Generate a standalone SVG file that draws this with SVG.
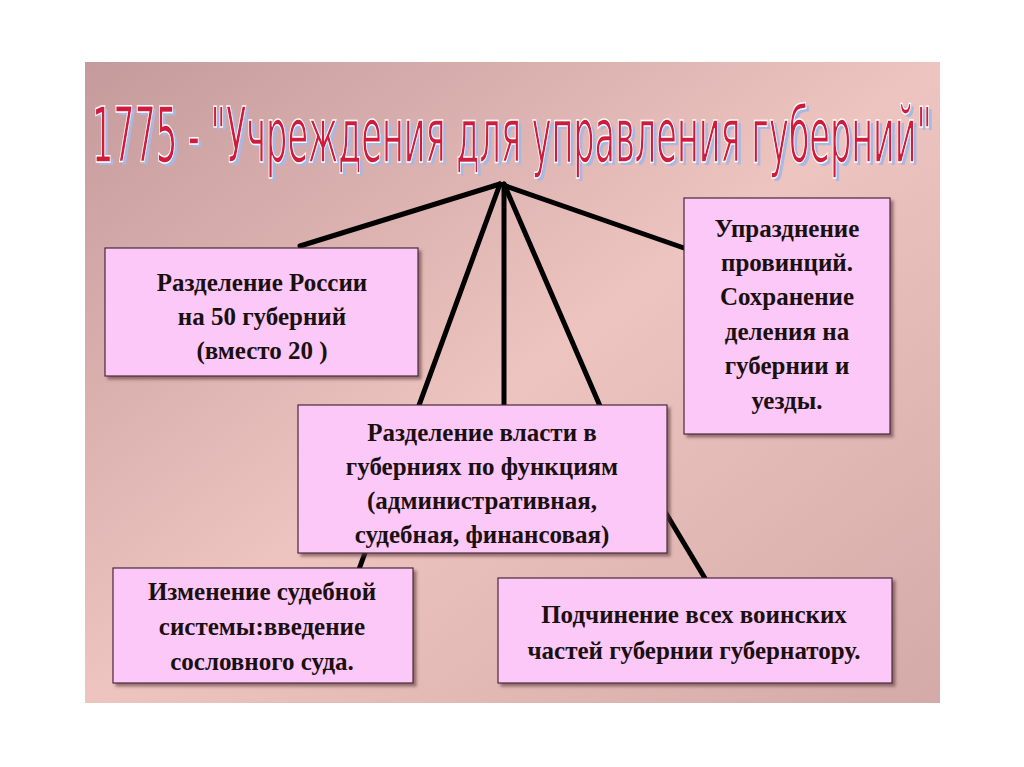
<svg xmlns="http://www.w3.org/2000/svg" width="1024" height="767" viewBox="0 0 1024 767">
<defs>
<linearGradient id="bg" x1="0" y1="0" x2="1" y2="1">
<stop offset="0" stop-color="#c49a9c"/>
<stop offset="0.5" stop-color="#eec4c0"/>
<stop offset="1" stop-color="#d4aaa8"/>
</linearGradient>
<filter id="sh" x="-5%" y="-5%" width="115%" height="115%"><feDropShadow dx="3" dy="3" stdDeviation="1.5" flood-color="#5a3a3a" flood-opacity="0.6"/></filter>
</defs>
<style>
.box{fill:#fcc8f8;stroke:#4a2a3a;stroke-width:1.2;filter:url(#sh)}
.t{font-family:"Liberation Serif",serif;font-weight:bold;font-size:25px;fill:#1a1010;text-anchor:middle}
.ln{stroke:#000;stroke-width:5;stroke-linecap:round;fill:none}
.ti{font-family:"DejaVu Sans Condensed","Liberation Sans",sans-serif;font-size:76px}
</style>
<rect width="1024" height="767" fill="#fff"/>
<rect x="85" y="62" width="855" height="641" fill="url(#bg)"/>
<g id="title">
<text class="ti" x="95" y="165" textLength="840" lengthAdjust="spacingAndGlyphs" fill="#a8b8e0">1775 - "Учреждения для управления губерний"</text>
<text class="ti" x="92" y="162" textLength="840" lengthAdjust="spacingAndGlyphs" fill="#d01c3c" stroke="#fff" stroke-width="1.5">1775 - "Учреждения для управления губерний"</text>
</g>
<g id="connectors">
<line class="ln" x1="500" y1="184" x2="300" y2="246"/>
<line class="ln" x1="500" y1="184" x2="684" y2="248"/>
<line class="ln" x1="500" y1="184" x2="358" y2="572"/>
<line class="ln" x1="504" y1="184" x2="504" y2="406"/>
<line class="ln" x1="504" y1="184" x2="600" y2="406"/>
<line class="ln" x1="610" y1="420" x2="706" y2="580"/>
</g>
<g id="n1"><rect class="box" x="105" y="248" width="313" height="128"/>
<text class="t" x="262" y="291">Разделение России</text><text class="t" x="262" y="325">на 50 губерний</text><text class="t" x="262" y="359">(вместо 20 )</text></g>
<g id="n2"><rect class="box" x="684" y="198" width="206" height="236"/>
<text class="t" x="787" y="237">Упразднение</text><text class="t" x="787" y="271">провинций.</text><text class="t" x="787" y="305">Сохранение</text><text class="t" x="787" y="340">деления на</text><text class="t" x="787" y="374">губернии и</text><text class="t" x="787" y="409">уезды.</text></g>
<g id="n3"><rect class="box" x="298" y="405" width="369" height="148"/>
<text class="t" x="482" y="441">Разделение власти в</text><text class="t" x="482" y="475">губерниях по функциям</text><text class="t" x="482" y="509">(административная,</text><text class="t" x="482" y="543">судебная, финансовая)</text></g>
<g id="n4"><rect class="box" x="113" y="568" width="300" height="115"/>
<text class="t" x="262" y="600">Изменение судебной</text><text class="t" x="262" y="635">системы:введение</text><text class="t" x="262" y="670">сословного суда.</text></g>
<g id="n5"><rect class="box" x="498" y="578" width="394" height="105"/>
<text class="t" x="694" y="623">Подчинение всех воинских</text><text class="t" x="694" y="659">частей губернии губернатору.</text></g>
</svg>
